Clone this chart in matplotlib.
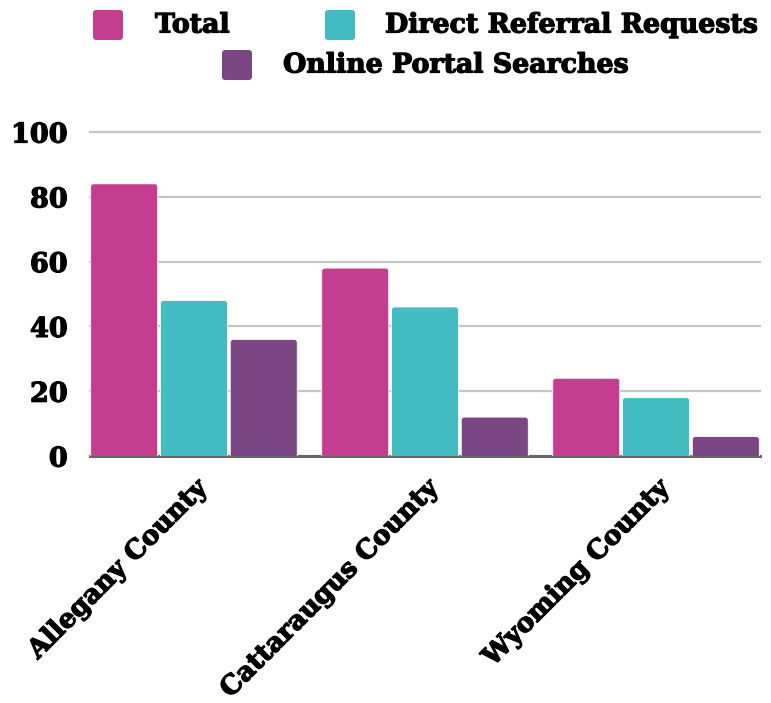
import matplotlib
matplotlib.use("Agg")
import matplotlib.pyplot as plt
import numpy as np
from matplotlib.patches import FancyBboxPatch
import matplotlib.patheffects as pe

categories = ["Allegany County", "Cattaraugus County", "Wyoming County"]
series_names = ["Total", "Direct Referral Requests", "Online Portal Searches"]
total = [84, 58, 24]
direct = [48, 46, 18]
online = [36, 12, 6]
colors = ["#C33E8F", "#42BCC1", "#7A4683"]
yticks = [0, 20, 40, 60, 80, 100]

plt.rcParams['font.family'] = ['DejaVu Serif']
plt.rcParams['font.weight'] = 'bold'
heavy = [pe.withStroke(linewidth=0.9, foreground='black')]

W, H = 771, 703
fig = plt.figure(figsize=(W / 100, H / 100), dpi=100)
ax = fig.add_axes([90 / W, (H - 456) / H, (760 - 90) / W, (456 - 132) / H])

x = np.arange(len(categories))
bw = 0.29
step = 0.302
series = [total, direct, online]
for i, (vals, c) in enumerate(zip(series, colors)):
    bars = ax.bar(x + (i - 1) * step, vals, width=bw, color=c)
    for r in bars:
        r.set_visible(False)
        p = FancyBboxPatch((r.get_x(), -3), r.get_width(), r.get_height() + 3,
                           boxstyle="round,pad=0,rounding_size=0.013",
                           mutation_aspect=71, facecolor=c,
                           edgecolor="white", linewidth=0.6, zorder=3)
        ax.add_patch(p)

ax.set_xlim(-0.45, 2.45)
ax.set_ylim(0, 100)
ax.set_yticks(yticks)
ax.set_yticklabels([str(v) for v in yticks], fontsize=19.5, fontweight='bold')
ax.grid(axis='y', color='#c6c6c6', linewidth=1.6, zorder=0)
for gl in ax.get_ygridlines():
    gl.set_clip_on(False)
ax.set_axisbelow(True)
for s in ax.spines.values():
    s.set_visible(False)
ax.axhline(0, color='#666666', linewidth=2.2, zorder=2, clip_on=False)
ax.tick_params(axis='both', length=0)
ax.tick_params(axis='y', pad=16)
ax.set_xticks(x)
ax.set_xticklabels(categories, fontsize=19, fontweight='bold',
                   rotation=45, ha='right', va='top', rotation_mode='anchor')
ax.tick_params(axis='x', pad=14)
for t in ax.get_xticklabels() + ax.get_yticklabels():
    t.set_path_effects(heavy)

# legend (manual layout in figure pixels)
def px(xp, yp):
    return xp / W, 1 - yp / H

legend_items = [
    (0, 93, 25, 155),
    (1, 325, 25, 385),
    (2, 222, 65, 283),
]
for idx, sx, cy, tx in legend_items:
    x0, y0 = px(sx, cy + 15)
    sq = FancyBboxPatch((x0, y0), 30 / W, 30 / H,
                        boxstyle="round,pad=0,rounding_size=0.004",
                        mutation_aspect=W / H, facecolor=colors[idx],
                        edgecolor='none', transform=fig.transFigure)
    fig.add_artist(sq)
    tx_f, ty_f = px(tx, cy)
    fig.text(tx_f, ty_f, series_names[idx], fontsize=19.3, fontweight='bold',
             ha='left', va='center', path_effects=heavy)

fig.savefig("out.png", dpi=100)
